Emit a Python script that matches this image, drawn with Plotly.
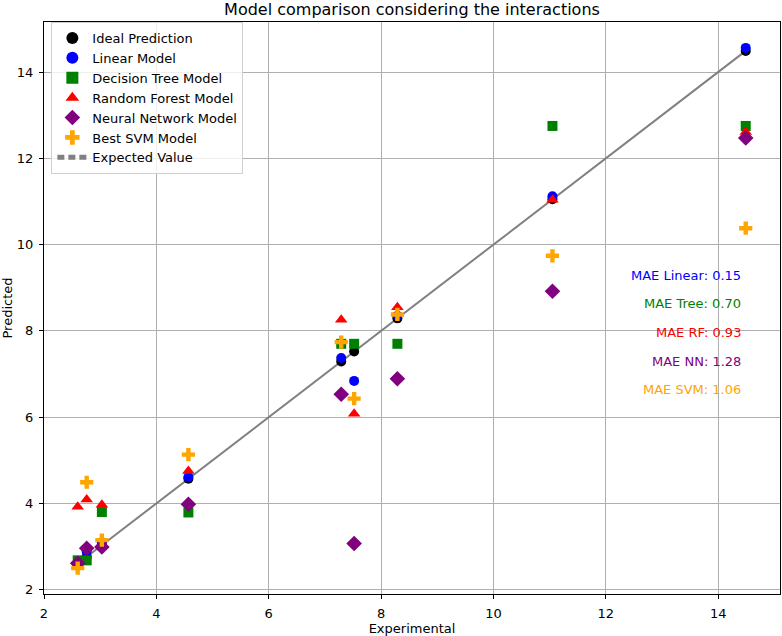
import plotly.graph_objects as go

experimental = [2.60, 2.76, 3.03, 4.57, 7.29, 7.52, 8.29, 11.05, 14.49]
linear_pred = [2.62, 2.88, 3.10, 4.61, 7.37, 6.84, 8.35, 11.12, 14.56]
tree_pred = [2.68, 2.68, 3.80, 3.79, 7.70, 7.70, 7.70, 12.75, 12.75]
rf_pred = [3.92, 4.09, 3.97, 4.75, 8.26, 6.08, 8.55, 11.04, 12.61]
nn_pred = [2.61, 2.96, 2.99, 3.98, 6.53, 3.07, 6.89, 8.92, 12.47]
svm_pred = [2.50, 4.49, 3.15, 5.13, 7.74, 6.43, 8.38, 9.74, 10.38]

mae_labels = ["MAE Linear: 0.15", "MAE Tree: 0.70", "MAE RF: 0.93",
              "MAE NN: 1.28", "MAE SVM: 1.06"]
mae_colors = ["blue", "green", "red", "purple", "orange"]

font = "DejaVu Sans"

fig = go.Figure()

# expected value line (solid in plot, dashed in legend)
lo, hi = min(experimental), max(experimental)
fig.add_trace(go.Scatter(x=[lo, hi], y=[lo, hi], mode='lines',
                         line=dict(color='#808080', width=2),
                         showlegend=False, hoverinfo='skip'))

fig.add_trace(go.Scatter(x=experimental, y=experimental, mode='markers',
                         name='Ideal Prediction',
                         marker=dict(color='black', size=10, symbol='circle')))
fig.add_trace(go.Scatter(x=experimental, y=linear_pred, mode='markers',
                         name='Linear Model',
                         marker=dict(color='blue', size=10, symbol='circle')))
fig.add_trace(go.Scatter(x=experimental, y=tree_pred, mode='markers',
                         name='Decision Tree Model',
                         marker=dict(color='green', size=10, symbol='square')))
fig.add_trace(go.Scatter(x=experimental, y=rf_pred, mode='markers',
                         name='Random Forest Model',
                         marker=dict(color='red', size=11, symbol='triangle-up')))
fig.add_trace(go.Scatter(x=experimental, y=nn_pred, mode='markers',
                         name='Neural Network Model',
                         marker=dict(color='purple', size=12, symbol='diamond')))
fig.add_trace(go.Scatter(x=experimental, y=svm_pred, mode='markers',
                         name='Best SVM Model',
                         marker=dict(color='orange', size=11, symbol='cross')))
fig.add_trace(go.Scatter(x=[None], y=[None], mode='lines',
                         name='Expected Value',
                         line=dict(color='#808080', width=1.8, dash='7px,4px')))

for i, (txt, col) in enumerate(zip(mae_labels, mae_colors)):
    fig.add_annotation(x=0.95, y=0.557 - i * 0.05, xref='paper', yref='paper',
                       text=txt, showarrow=False, xanchor='right',
                       yanchor='middle', font=dict(color=col, size=13, family=font))

axis_style = dict(showline=True, linecolor='black', linewidth=1, mirror=True,
                  ticks='outside', ticklen=4, tickcolor='black',
                  ticklabelstandoff=3,
                  showgrid=True, gridcolor='#b0b0b0', gridwidth=1,
                  zeroline=False, tickfont=dict(size=13, color='black', family=font))

fig.update_layout(
    width=782, height=636,
    margin=dict(l=44, r=2, t=22, b=42),
    plot_bgcolor='white', paper_bgcolor='white',
    font=dict(family=font, size=13, color='black'),
    title=dict(text='Model comparison considering the interactions',
               x=0.5, xref='paper', xanchor='center', y=0.986, yanchor='middle',
               font=dict(size=16, family=font)),
    xaxis=dict(range=[2.0, 15.1], dtick=2,
               title=dict(text='Experimental', standoff=2, font=dict(size=13)),
               **axis_style),
    yaxis=dict(range=[1.9, 15.16], dtick=2,
               title=dict(text='Predicted', standoff=4, font=dict(size=13)),
               **axis_style),
    legend=dict(x=0.01, y=1.0, xanchor='left', yanchor='top',
                bgcolor='rgba(255,255,255,0.8)', bordercolor='#d0d0d0',
                borderwidth=1, font=dict(size=13, family=font),
                tracegroupgap=0, itemsizing='constant'),
)

fig.write_html("out.html", config={'displayModeBar': False},
               post_script="document.body.style.margin='0';")
